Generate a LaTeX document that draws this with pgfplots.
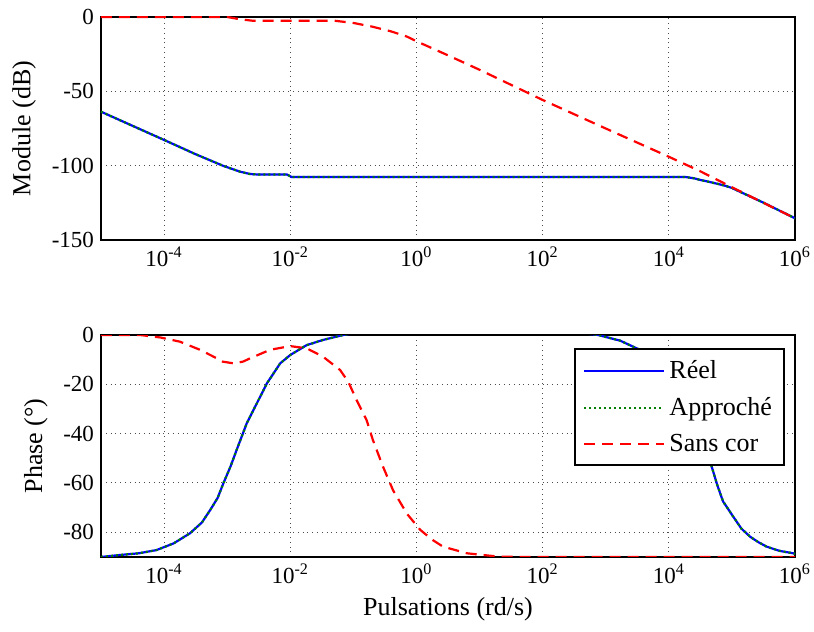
\documentclass[border=0pt]{standalone}
\usepackage{fontspec}
\setmainfont{Liberation Serif}
\usepackage{pgfplots}
\usepackage{pgfplotstable}
\pgfplotsset{compat=1.18}
\usetikzlibrary{calc}

\pgfplotstableread{
lw db
-5 -63.7
-4.5 -73.2
-4 -82.7
-3.5 -92.3
-3.07 -100
-2.8 -104
-2.64 -105.6
-2.5 -106
-2.05 -106
-1.98 -107.6
0 -107.6
2 -107.6
4.26 -107.6
4.4 -108.5
4.5 -109.6
4.65 -111
4.8 -112.5
4.9 -113.6
5 -115
5.5 -124.9
6 -135.4
}\blueMag

\pgfplotstableread{
lw db
-5 0
-3 0
-2.8 -1.5
-2.6 -2.5
-1.3 -2.5
-1.0 -4
-0.7 -6.5
-0.4 -9.7
-0.15 -13.2
0 -16.3
0.5 -25.8
1 -35.5
2 -55.8
3 -75
4 -94
4.5 -103.8
5 -114.5
5.5 -125
6 -135.4
}\redMag

\pgfplotstableread{
lw ph
-5 -90
-4.7 -89.2
-4.4 -88.5
-4.12 -87.2
-3.85 -84.5
-3.59 -80.4
-3.4 -76
-3.27 -71
-3.15 -66
-3.06 -60.1
-2.95 -53.5
-2.85 -46.6
-2.69 -35.8
-2.53 -27.7
-2.37 -19.6
-2.16 -11.5
-2.0 -8.1
-1.74 -4.1
-1.48 -2
-1.16 0
-0.8 1.5
0 3
1 3.5
2 2.5
2.5 1.2
2.88 0
3.23 -2.3
3.54 -6
3.72 -10
3.9 -16
4.09 -22.5
4.25 -30
4.41 -38
4.57 -46
4.68 -53.4
4.77 -61
4.86 -67.5
5.02 -73.6
5.15 -78.5
5.29 -81.8
5.42 -84
5.55 -85.8
5.75 -87.5
5.97 -88.5
6 -88.7
}\bluePh

\pgfplotstableread{
lw ph
-5 0
-4.38 0
-4.06 -1
-3.75 -2.7
-3.43 -6
-3.2 -9
-3.07 -10.8
-2.9 -11.5
-2.75 -10.8
-2.64 -9.5
-2.32 -6
-2.0 -4.5
-1.74 -5.4
-1.48 -8.8
-1.21 -14.2
-1.08 -19
-0.95 -26.3
-0.79 -34.5
-0.69 -42.6
-0.53 -53.4
-0.37 -63
-0.15 -72.5
0.06 -79
0.25 -83
0.42 -85.8
0.8 -88.5
1.32 -89.9
2 -90
6 -90
}\redPh

\definecolor{mblue}{RGB}{0,0,255}
\definecolor{mgreen}{RGB}{0,128,0}
\definecolor{mred}{RGB}{255,0,0}

\begin{document}
\begin{tikzpicture}
\begin{axis}[name=top,
  width=347pt, height=111.5pt, scale only axis,
  xmode=log, xmin=1e-5, xmax=1e6,
  xtick={1e-4,1e-2,1,1e2,1e4,1e6},
  xticklabels={10\textsuperscript{-4},10\textsuperscript{-2},10\textsuperscript{0},10\textsuperscript{2},10\textsuperscript{4},10\textsuperscript{6}},
  minor xtick={},
  xmajorgrids=true, ymajorgrids=true,
  major grid style={dotted, line width=0.5pt, black!70},
  major tick length=0pt, minor tick length=0pt,
  axis line style={line width=1.2pt},
  tick label style={font=\fontsize{11.5}{13}\selectfont},
  label style={font=\fontsize{13}{15}\selectfont},
  ymin=-150, ymax=0,
  ytick={-150,-100,-50,0},
  yticklabels={-150,-100,-50,0},
  ylabel={Module (dB)},
  ylabel style={yshift=1pt},
]
\addplot[mblue, line width=1.1pt] table[x expr={10^(\thisrow{lw})}, y=db] {\blueMag};
\addplot[mgreen, line width=1.1pt, dash pattern=on 1pt off 1.5pt] table[x expr={10^(\thisrow{lw})}, y=db] {\blueMag};
\addplot[mred, line width=1.1pt, dash pattern=on 5.5pt off 3.5pt] table[x expr={10^(\thisrow{lw})}, y=db] {\redMag};
\end{axis}
\begin{axis}[name=bot,
  at={(top.south west)}, anchor=north west, yshift=-47.5pt,
  width=347pt, height=111pt, scale only axis,
  xmode=log, xmin=1e-5, xmax=1e6,
  xtick={1e-4,1e-2,1,1e2,1e4,1e6},
  xticklabels={10\textsuperscript{-4},10\textsuperscript{-2},10\textsuperscript{0},10\textsuperscript{2},10\textsuperscript{4},10\textsuperscript{6}},
  minor xtick={},
  xmajorgrids=true, ymajorgrids=true,
  major grid style={dotted, line width=0.5pt, black!70},
  major tick length=0pt, minor tick length=0pt,
  axis line style={line width=1.2pt},
  tick label style={font=\fontsize{11.5}{13}\selectfont},
  label style={font=\fontsize{13}{15}\selectfont},
  ymin=-90, ymax=0,
  ytick={-80,-60,-40,-20,0},
  yticklabels={-80,-60,-40,-20,0},
  ylabel={Phase (°)},
  ylabel style={yshift=1pt},
  xlabel={Pulsations (rd/s)},
  legend style={at={(0.9856,0.941)}, anchor=north east, draw=black, line width=1pt,
    fill=white, font=\fontsize{13}{15}\selectfont, inner xsep=4pt, inner ysep=3.5pt,
    row sep=4pt},
  legend cell align=left,
  legend image code/.code={\draw[#1] (0pt,0pt) -- (40pt,0pt);},
]
\addplot[mblue, line width=1.1pt] table[x expr={10^(\thisrow{lw})}, y=ph] {\bluePh};
\addlegendentry{Réel}
\addplot[mgreen, line width=1.1pt, dash pattern=on 1pt off 1.5pt] table[x expr={10^(\thisrow{lw})}, y=ph] {\bluePh};
\addlegendentry{Approché}
\addplot[mred, line width=1.1pt, dash pattern=on 5.5pt off 3.5pt] table[x expr={10^(\thisrow{lw})}, y=ph] {\redPh};
\addlegendentry{Sans cor}
\end{axis}
\pgfresetboundingbox
\path[use as bounding box] ($(top.north west)+(-50.5pt,8.5pt)$) rectangle ($(bot.south east)+(9.5pt,-37.5pt)$);
\end{tikzpicture}
\end{document}
